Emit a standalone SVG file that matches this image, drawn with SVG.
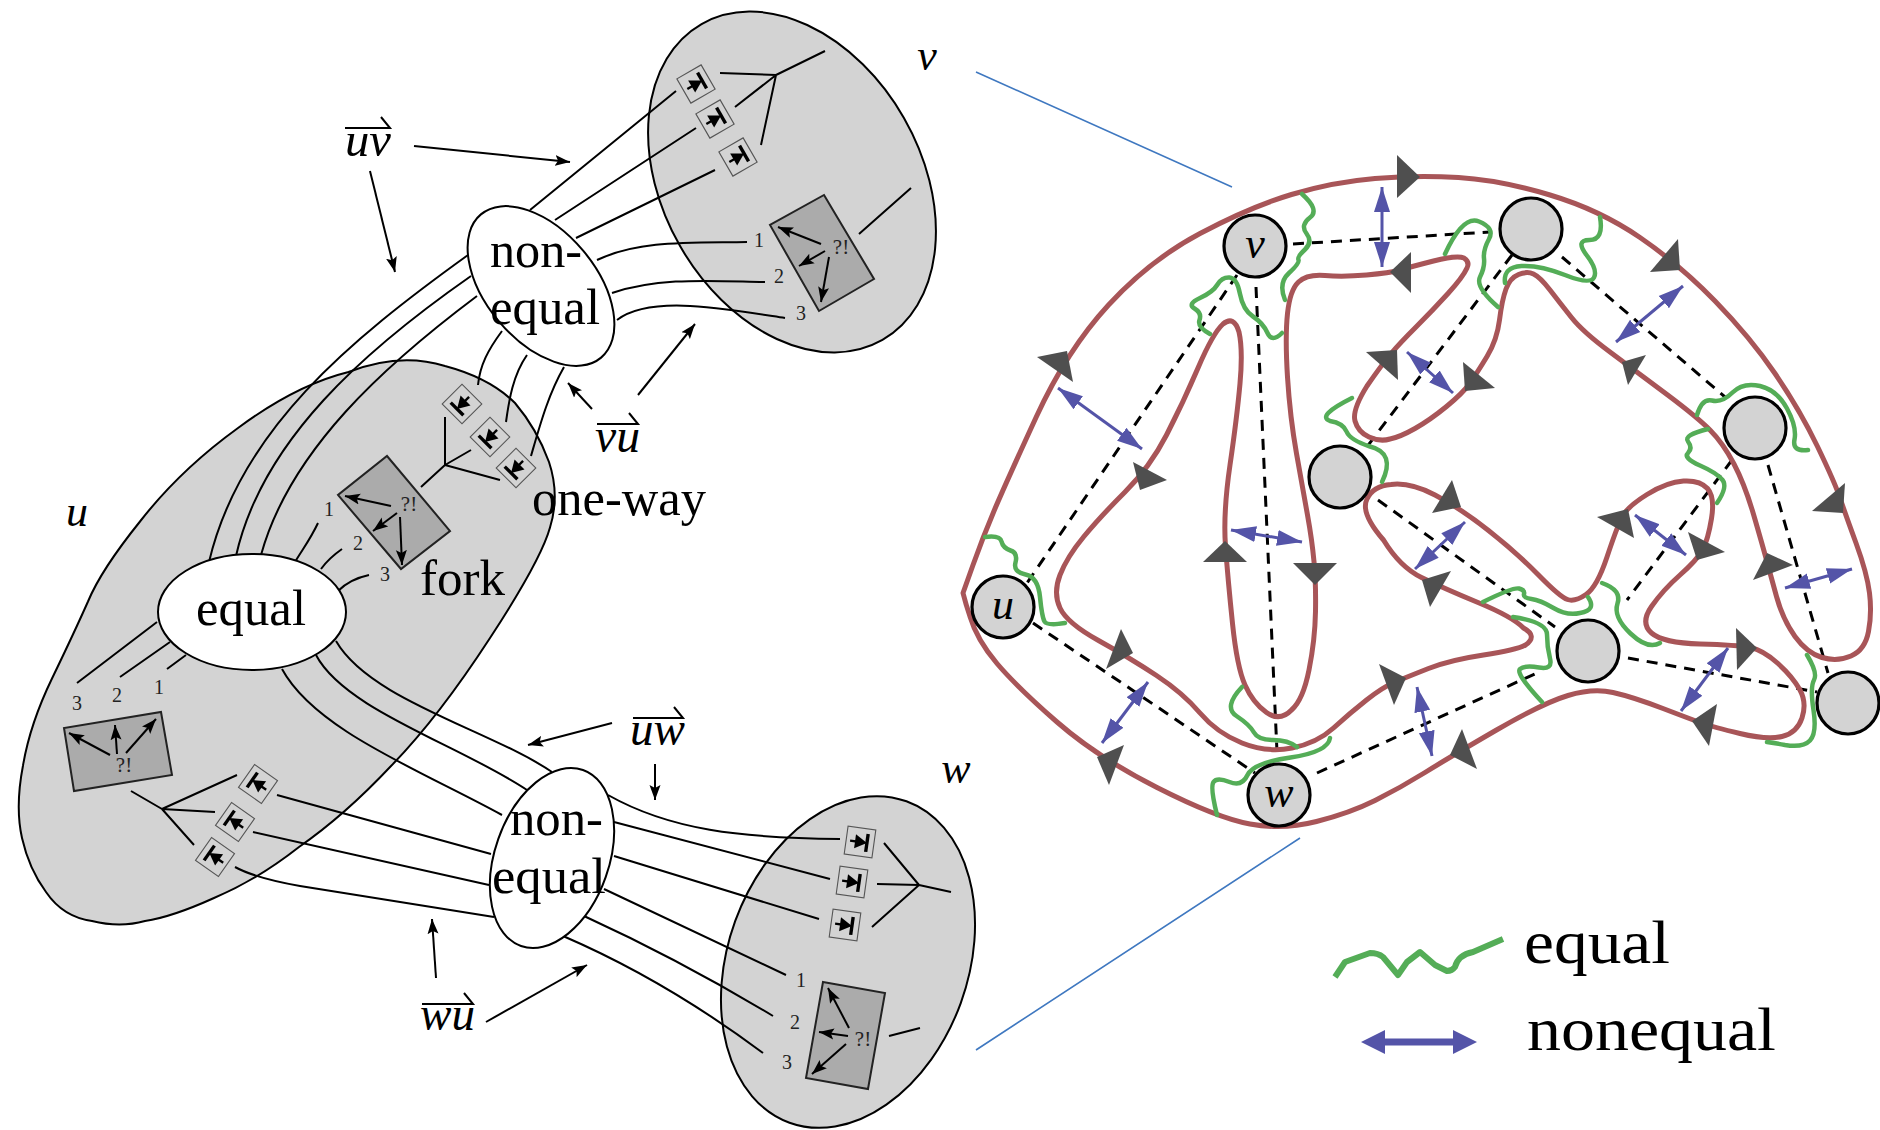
<svg xmlns="http://www.w3.org/2000/svg" xmlns:xlink="http://www.w3.org/1999/xlink" width="1880" height="1130" viewBox="0 0 1880 1130">
<style>
.blob{fill:#d3d3d3;stroke:#000;stroke-width:2}
.hub{fill:#fff;stroke:#000;stroke-width:2}
.l{fill:none;stroke:#000;stroke-width:2}
.a{fill:none;stroke:#000;stroke-width:2;marker-end:url(#ah)}
.sq{fill:#ababab;stroke:#222;stroke-width:2}
.t{font-family:"Liberation Serif",serif;fill:#000}
.b{font-size:50px}
.n{font-size:20px;text-anchor:middle;fill:#222}
.q{font-size:21px;text-anchor:middle;fill:#222}
.m{font-size:44px;font-style:italic;text-anchor:middle}
.mo{font-size:48px;font-style:italic}
.red{fill:none;stroke:#a85558;stroke-width:5;stroke-linejoin:round}
.gr{fill:none;stroke:#54ad57;stroke-width:4.5;stroke-linecap:round}
.d{fill:none;stroke:#000;stroke-width:3;stroke-dasharray:11 8}
.bl{fill:none;stroke:#5454a8;stroke-width:3;marker-start:url(#bh);marker-end:url(#bh)}
.tri{fill:#4f4f4f}
.v{fill:#d3d3d3;stroke:#000;stroke-width:3.2}
.link{fill:none;stroke:#3f78c0;stroke-width:1.6}
</style>
<defs>
<marker id="ah" markerUnits="userSpaceOnUse" markerWidth="16" markerHeight="12" refX="15" refY="6" orient="auto"><path d="M15,6 L0,0.5 L3,6 L0,11.5 Z" fill="#000"/></marker>
<marker id="bh" markerUnits="userSpaceOnUse" markerWidth="26" markerHeight="18" refX="25" refY="9" orient="auto-start-reverse"><path d="M25,9 L0,1 L0,17 Z" fill="#5454a8"/></marker>
<g id="gate"><rect x="-14" y="-14" width="28" height="28" fill="none" stroke="#555" stroke-width="1.1"/><path d="M-10,0 H0" stroke="#000" stroke-width="2.4"/><path d="M7,0 L-5,-7 L-5,7 Z" fill="#000"/><path d="M7,-9 V9" stroke="#000" stroke-width="3.4"/></g>
</defs>
<rect width="1880" height="1130" fill="#fff"/>

<g id="node-v-region"><ellipse class="blob" cx="792" cy="182" rx="182" ry="129" transform="rotate(60.2 792 182)"/>
<path class="sq" d="M824,195 L874,279 L819,311 L770,225 Z"/>
<text class="t q" x="841" y="254">?!</text>
<path class="a" d="M821,244 L778,227"/><path class="a" d="M825,251 L799,266"/><path class="a" d="M829,257 L821,302"/>
<text class="t n" x="759" y="247">1</text><text class="t n" x="779" y="283">2</text><text class="t n" x="801" y="320">3</text>
<use xlink:href="#gate" href="#gate" transform="translate(696,84) rotate(-30)"/><use xlink:href="#gate" href="#gate" transform="translate(715,119) rotate(-30)"/><use xlink:href="#gate" href="#gate" transform="translate(738,157) rotate(-30)"/>
</g>
<g id="node-u-region"><path class="blob" d="M348.5,372 Q400,352 445,366 Q490,378 515,403 Q537,429 549,462 Q560,495 550,527.5 Q541,560 490,638 Q438,718 391,766 Q345,815 299,847 Q257,880 214,898 Q172,917 145,921 Q120,928 92,921 Q63,917 46,892 Q29,869 22,838 Q15,807 23,765.5 Q30,724 52,678.5 Q74,633 88,601.5 Q101,570 140,521.5 Q180,470 238,428 Q296,385 348.5,372 Z"/>
<path class="sq" d="M387,456 L450,531 L401,569 L338,495 Z"/>
<text class="t q" x="409" y="511">?!</text>
<path class="a" d="M391,506 L345,496"/><path class="a" d="M397,513 L373,531"/><path class="a" d="M400,517 L402,565"/>
<text class="t n" x="329" y="516">1</text><text class="t n" x="358" y="550">2</text><text class="t n" x="385" y="581">3</text>
<use xlink:href="#gate" href="#gate" transform="translate(462,404) rotate(135)"/><use xlink:href="#gate" href="#gate" transform="translate(490,437) rotate(135)"/><use xlink:href="#gate" href="#gate" transform="translate(516,468) rotate(135)"/>
<path class="sq" d="M161,712 L172,775 L74,791 L64,728 Z"/>
<text class="t q" x="124" y="772">?!</text>
<path class="a" d="M110,755 L69,733"/><path class="a" d="M117,754 L115,725"/><path class="a" d="M126,753 L156,719"/>
<text class="t n" x="77" y="710">3</text><text class="t n" x="117" y="702">2</text><text class="t n" x="159" y="694">1</text>
<use xlink:href="#gate" href="#gate" transform="translate(258,784) rotate(215)"/><use xlink:href="#gate" href="#gate" transform="translate(235,822) rotate(215)"/><use xlink:href="#gate" href="#gate" transform="translate(215,857) rotate(215)"/>
</g>
<g id="node-w-region"><ellipse class="blob" cx="848" cy="962" rx="171" ry="120" transform="rotate(-70 848 962)"/>
<path class="sq" d="M823,982 L885,993 L868,1089 L806,1078 Z"/>
<text class="t q" x="863" y="1046">?!</text>
<path class="a" d="M849,1028 L828,988"/><path class="a" d="M848,1036 L819,1032"/><path class="a" d="M846,1044 L812,1074"/>
<text class="t n" x="801" y="987">1</text><text class="t n" x="795" y="1029">2</text><text class="t n" x="787" y="1069">3</text>
<use xlink:href="#gate" href="#gate" transform="translate(860,842) rotate(8)"/><use xlink:href="#gate" href="#gate" transform="translate(852,882) rotate(8)"/><use xlink:href="#gate" href="#gate" transform="translate(845,925) rotate(8)"/>
</g>

<g id="connectors-left">
<path class="l" d="M530,210 L676,91 M555,220 L696,128 M576,238 L715,170"/>
<path class="l" d="M720,73 L776,75 M825,51 L776,75 M735,107 L776,75 M761,145 L776,75 M859,234 L911,188"/>
<path class="l" d="M597,260 C640,240 690,243 747,242 M612,293 C660,277 710,281 765,282 M617,320 C650,295 720,308 785,318"/>
<path class="l" d="M468,255 C350,340 240,430 209,562 M471,276 C365,350 262,440 236,556 M477,296 C385,365 290,450 261,555"/>
<path class="l" d="M502,331 C488,350 480,365 478,385 M527,355 C513,375 509,400 506,422 M564,367 C548,395 540,425 531,456"/>
<path class="l" d="M445,417 L445,465 M471,450 L445,465 M500,480 L445,465 M421,487 L445,465"/>
<path class="l" d="M318,523 C310,540 302,550 295,562 M342,549 C332,556 326,562 321,569 M369,575 C355,578 345,584 338,591"/>
<path class="l" d="M157,622 L77,683 M170,642 L120,677 M186,655 L167,669"/>
<path class="l" d="M131,791 L162,809 M237,775 L162,809 M215,812 L162,809 M194,845 L162,809"/>
<path class="l" d="M277,795 L491,854 M253,832 L489,885 M235,867 Q255,878 300,886 L494,917"/>
<path class="l" d="M336,641 C370,700 490,730 552,772 M316,655 C345,710 460,745 527,790 M282,669 C315,730 420,770 502,815"/>
<path class="l" d="M608,795 C670,830 740,838 840,839 M614,822 L830,879 M614,856 L819,919"/>
<path class="l" d="M884,843 L919,885 M877,884 L919,885 M872,927 L919,885 M951,892 L919,885 M889,1036 L920,1028"/>
<path class="l" d="M604,889 Q690,930 786,975 M584,916 Q680,960 773,1016 M563,936 Q665,980 763,1053"/>
<path class="a" d="M414,146 L570,162"/><path class="a" d="M370,171 L395,272"/><path class="a" d="M592,409 L568,383"/><path class="a" d="M638,395 L695,324"/>
<path class="a" d="M612,723 L528,745"/><path class="a" d="M655,764 L655,800"/><path class="a" d="M436,978 L432,919"/><path class="a" d="M486,1022 L587,965"/>
</g>

<g id="node-nonequal-top"><ellipse class="hub" cx="541" cy="286" rx="93.5" ry="55" transform="rotate(50 541 286)"/>
<text class="t b" x="490" y="267" textLength="92" lengthAdjust="spacingAndGlyphs">non-</text><text class="t b" x="490" y="324" textLength="110" lengthAdjust="spacingAndGlyphs">equal</text></g>
<g id="node-equal"><ellipse class="hub" cx="252" cy="612" rx="94" ry="58"/>
<text class="t b" x="196" y="625" textLength="110" lengthAdjust="spacingAndGlyphs">equal</text></g>
<g id="node-nonequal-bottom"><ellipse class="hub" cx="552" cy="858" rx="93.3" ry="57" transform="rotate(-70.6 552 858)"/>
<text class="t b" x="510" y="835" textLength="93" lengthAdjust="spacingAndGlyphs">non-</text><text class="t b" x="492" y="893" textLength="114" lengthAdjust="spacingAndGlyphs">equal</text></g>

<g id="labels-left">
<text class="t b" x="532" y="515" textLength="174" lengthAdjust="spacingAndGlyphs">one-way</text>
<text class="t b" x="420" y="595" textLength="85" lengthAdjust="spacingAndGlyphs">fork</text>
<text class="t m" x="77" y="526">u</text><text class="t m" x="927" y="70">v</text><text class="t m" x="956" y="783">w</text>
<text class="t mo" x="345" y="156" textLength="46" lengthAdjust="spacingAndGlyphs">uv</text><path class="l" d="M345,128 H390 L381,117"/>
<text class="t mo" x="595" y="452" textLength="45" lengthAdjust="spacingAndGlyphs">vu</text><path class="l" d="M597,424 H638 L629,413"/>
<text class="t mo" x="630" y="745" textLength="55" lengthAdjust="spacingAndGlyphs">uw</text><path class="l" d="M633,718 H683 L674,707"/>
<text class="t mo" x="420" y="1030" textLength="55" lengthAdjust="spacingAndGlyphs">wu</text><path class="l" d="M422,1004 H473 L464,993"/>
</g>

<g id="zoom-lines"><path class="link" d="M976,72 L1232,187 M1300,838 L976,1050"/></g>

<g id="connectors-right">
<path class="d" d="M1256,287 L1277,752 M1237,275 L1027,583 M1293,244 L1490,232 M1512,255 L1363,452 M1562,257 L1725,397 M1732,460 L1627,600 M1768,465 L1828,673 M1378,500 L1555,627 M1628,658 L1817,692 M1033,623 L1255,773 M1317,773 L1537,673"/>
<path class="red" d="M963,593 L973,565 Q983,537 994,511 Q1005,485 1036,417.5 Q1067,350 1108.5,305 Q1150,260 1200,233.5 Q1250,207 1291.5,194.5 Q1333,182 1375,178.5 Q1417,175 1458.5,177.5 Q1500,180 1550,195 Q1600,210 1640,237.5 Q1680,265 1715,301 Q1750,337 1775,373.5 Q1800,410 1817.5,446.5 Q1835,483 1840,498 Q1845,513 1856,543 Q1867,573 1869.5,593 Q1872,613 1868.5,631.5 Q1865,650 1851,656 Q1837,662 1822,657.5 Q1807,653 1795,636.5 Q1783,620 1776.5,596.5 Q1770,573 1766.5,560 Q1763,547 1754,516 Q1745,485 1734,464 Q1723,443 1710,430 Q1697,417 1667,394.5 Q1637,372 1610,352 Q1583,332 1571.5,317.5 Q1560,303 1550,290 Q1540,277 1533.5,274 Q1527,271 1518.5,274.5 Q1510,278 1506,289 Q1502,300 1499.5,320 Q1497,340 1487,356.5 Q1477,373 1470,383 Q1463,393 1446.5,406.5 Q1430,420 1415,428.5 Q1400,437 1390,439 Q1380,442 1369,437 Q1358,432 1355,421 Q1352,410 1367,386 Q1383,363 1391.5,353 Q1400,343 1416.5,326.5 Q1433,310 1448,293.5 Q1463,277 1467,268 Q1470,262 1464,258 Q1457,255 1433.5,261 Q1410,267 1400,270 Q1390,273 1366.5,275 Q1343,277 1325,275.5 Q1307,274 1298.5,282 Q1290,290 1287.5,313.5 Q1285,337 1287.5,377 Q1290,417 1296.5,453.5 Q1303,490 1307.5,515 Q1312,540 1314,561.5 Q1316,583 1315.5,611.5 Q1315,640 1309,670 Q1303,700 1291.5,710 Q1280,722 1266.5,712.5 Q1253,703 1245,685 Q1237,667 1232.5,623.5 Q1228,580 1225.5,546.5 Q1223,513 1230,465 Q1237,417 1240,383.5 Q1243,350 1239,332 Q1234,315 1223,324 Q1213,333 1198,368 Q1183,403 1166.5,435 Q1150,467 1125,492 Q1100,517 1083.5,537 Q1067,557 1060,575 Q1053,593 1060,608 Q1067,623 1098.5,640.5 Q1130,658 1156.5,675.5 Q1183,693 1200,713 Q1217,733 1242,743 Q1267,753 1292,748 Q1317,743 1333.5,728 Q1350,713 1366.5,700 Q1383,687 1395,682 Q1407,677 1428.5,668.5 Q1450,660 1483.5,655 Q1517,650 1525.5,645 Q1538,636 1523.5,628 Q1513,617 1478,602.5 Q1443,588 1421.5,577.5 Q1400,567 1383.5,540 Q1360,513 1367,499 Q1373,486 1391,484.5 Q1410,482 1435,495 Q1460,508 1488.5,530.5 Q1517,553 1538.5,575 Q1560,597 1567.5,599.5 Q1575,602 1586,594.5 Q1597,587 1607,557 Q1617,527 1622,517 Q1627,507 1647,494.5 Q1667,482 1683.5,481 Q1700,480 1707.5,488.5 Q1715,497 1711.5,518.5 Q1708,540 1702.5,550 Q1697,560 1680,575 Q1663,590 1651.5,606.5 Q1640,623 1651.5,633 Q1663,643 1700,644 Q1737,645 1750,647.5 Q1763,650 1778,663.5 Q1793,677 1800,690 Q1807,703 1802,718 Q1797,733 1782,736.5 Q1767,740 1740,733.5 Q1713,727 1703,723.5 Q1693,720 1663,708.5 Q1633,697 1613,692.5 Q1593,688 1568,695.5 Q1543,703 1496.5,730 Q1450,757 1425,772.5 Q1400,788 1375,800.5 Q1350,813 1316.5,821.5 Q1283,830 1250,824 Q1217,818 1157,787.5 Q1097,757 1057,722 Q1017,687 997,663.5 Q977,640 970,616.5 Q966,605 963,593 Z"/>
<path class="gr" d="M1302,194 Q1320,210 1310,217.5 Q1300,225 1306.5,233.5 Q1313,242 1305,249.5 Q1297,257 1298.5,260 Q1300,263 1289,273 Q1278,283 1285,300"/>
<path class="gr" d="M1210,334 Q1197,327 1199.5,320 Q1202,313 1194.5,308.5 Q1187,304 1200,298 Q1213,292 1217.5,284.5 Q1222,277 1229.5,277.5 Q1237,278 1240,294 Q1243,310 1253,316.5 Q1263,323 1267.5,333 Q1272,343 1282,333"/>
<path class="gr" d="M985,537 Q1000,535 1001.5,541.5 Q1003,548 1010.5,550.5 Q1018,553 1015.5,562.5 Q1013,572 1025.5,574.5 Q1038,577 1040,597 Q1042,617 1044.5,621.5 Q1047,626 1065,623"/>
<path class="gr" d="M1242,687 Q1223,707 1236.5,716 Q1250,725 1254,732.5 Q1258,740 1273,740 Q1288,740 1297,747"/>
<path class="gr" d="M1330,738 Q1328,752 1290.5,757.5 Q1253,763 1247.5,775 Q1242,787 1229.5,782 Q1217,777 1213.5,782 Q1210,787 1217,815"/>
<path class="gr" d="M1352,398 Q1316,416 1330,421 Q1343,423 1346.5,431.5 Q1350,440 1370,446.5 Q1396,453 1382,482"/>
<path class="gr" d="M1445,254 Q1463,215 1479,221.5 Q1495,228 1489,239 Q1483,250 1484,258.5 Q1485,267 1480,277 Q1475,287 1498,307"/>
<path class="gr" d="M1600,217 Q1604,240 1589.5,240 Q1575,240 1586.5,255 Q1598,270 1594,277.5 Q1590,285 1565,275 Q1540,265 1521.5,266 Q1503,267 1505,283"/>
<path class="gr" d="M1697,415 Q1702,398 1712,400.5 Q1722,403 1732.5,392.5 Q1743,382 1760,386 Q1777,390 1787,408.5 Q1797,427 1794.5,439.5 Q1792,452 1808,450"/>
<path class="gr" d="M1708,429 Q1683,435 1688,441.5 Q1693,448 1688,453 Q1683,458 1700,465.5 Q1717,473 1722.5,480 Q1728,487 1717,503"/>
<path class="gr" d="M1483,602 Q1513,587 1519,588.5 Q1525,590 1524,594 Q1523,598 1531.5,599 Q1540,600 1553.5,608 Q1567,616 1580,613 Q1597,610 1588,597"/>
<path class="gr" d="M1513,617 Q1547,622 1547,634.5 Q1547,647 1550,658.5 Q1553,670 1539,667.5 Q1525,665 1520,669 Q1515,673 1542,702"/>
<path class="gr" d="M1602,583 Q1622,590 1617.5,603.5 Q1613,617 1630.5,633.5 Q1648,650 1660,643"/>
<path class="gr" d="M1807,655 Q1818,673 1814,680 Q1810,687 1813.5,710 Q1817,733 1810,740.5 Q1803,748 1785,745 Q1775,743 1767,742"/>
<path class="bl" d="M1382,187 L1382,267"/><path class="bl" d="M1058,388 L1142,449"/><path class="bl" d="M1407,352 L1453,393"/><path class="bl" d="M1683,286 L1616,342"/><path class="bl" d="M1231,530 L1302,542"/><path class="bl" d="M1148,682 L1102,743"/><path class="bl" d="M1465,522 L1415,569"/><path class="bl" d="M1635,515 L1686,555"/><path class="bl" d="M1852,569 L1785,588"/><path class="bl" d="M1728,648 L1681,711"/><path class="bl" d="M1417,687 L1432,756"/>
<g class="tri">
<path d="M1397,155 L1420,177 L1397,198 Z"/><path d="M1390,272 L1411,252 L1411,293 Z"/><path d="M1037,357 L1067,351 L1073,382 Z"/><path d="M1133,462 L1167,480 L1140,490 Z"/><path d="M1366,352 L1397,350 L1398,380 Z"/><path d="M1463,362 L1495,388 L1465,391 Z"/><path d="M1650,272 L1678,239 L1680,270 Z"/><path d="M1622,362 L1646,355 L1628,385 Z"/><path d="M1812,511 L1845,483 L1843,513 Z"/><path d="M1753,580 L1767,553 L1793,565 Z"/><path d="M1432,513 L1452,480 L1461,507 Z"/><path d="M1422,580 L1451,571 L1430,607 Z"/><path d="M1597,517 L1628,509 L1634,538 Z"/><path d="M1688,532 L1725,552 L1697,560 Z"/><path d="M1736,628 L1757,648 L1737,670 Z"/><path d="M1692,721 L1717,704 L1709,746 Z"/><path d="M1462,729 L1450,755 L1477,769 Z"/><path d="M1379,664 L1406,678 L1394,705 Z"/><path d="M1121,629 L1133,653 L1106,669 Z"/><path d="M1124,745 L1097,757 L1109,785 Z"/><path d="M1225,541 L1247,562 L1203,562 Z"/><path d="M1293,563 L1337,563 L1315,585 Z"/>
</g>
</g>

<g id="vertex-v"><circle class="v" cx="1255" cy="246" r="31"/><text class="t m" x="1255" y="258">v</text></g>
<g id="vertex-a"><circle class="v" cx="1531" cy="229" r="31"/></g>
<g id="vertex-b"><circle class="v" cx="1755" cy="428" r="31"/></g>
<g id="vertex-c"><circle class="v" cx="1340" cy="477" r="31"/></g>
<g id="vertex-u"><circle class="v" cx="1003" cy="607" r="31"/><text class="t m" x="1003" y="619">u</text></g>
<g id="vertex-w"><circle class="v" cx="1279" cy="795" r="31"/><text class="t m" x="1279" y="807">w</text></g>
<g id="vertex-d"><circle class="v" cx="1588" cy="651" r="31"/></g>
<g id="vertex-e"><circle class="v" cx="1848" cy="703" r="31"/></g>

<g id="legend">
<path d="M1335,977 L1345,962 L1370,953 Q1378,953 1383,957 L1398,975 L1407,962 L1420,952 L1435,965 L1447,971 Q1452,971 1455,967 Q1458,955 1473,952 L1503,939" fill="none" stroke="#54ad57" stroke-width="6" stroke-linejoin="round"/>
<path d="M1375,1042 L1463,1042" fill="none" stroke="#5454a8" stroke-width="7"/>
<path d="M1361,1042 L1385,1030 V1054 Z M1477,1042 L1453,1030 V1054 Z" fill="#5454a8"/>
<text class="t" x="1524" y="963" font-size="62" textLength="146" lengthAdjust="spacingAndGlyphs">equal</text>
<text class="t" x="1527" y="1050" font-size="62" textLength="249" lengthAdjust="spacingAndGlyphs">nonequal</text>
</g>
</svg>
